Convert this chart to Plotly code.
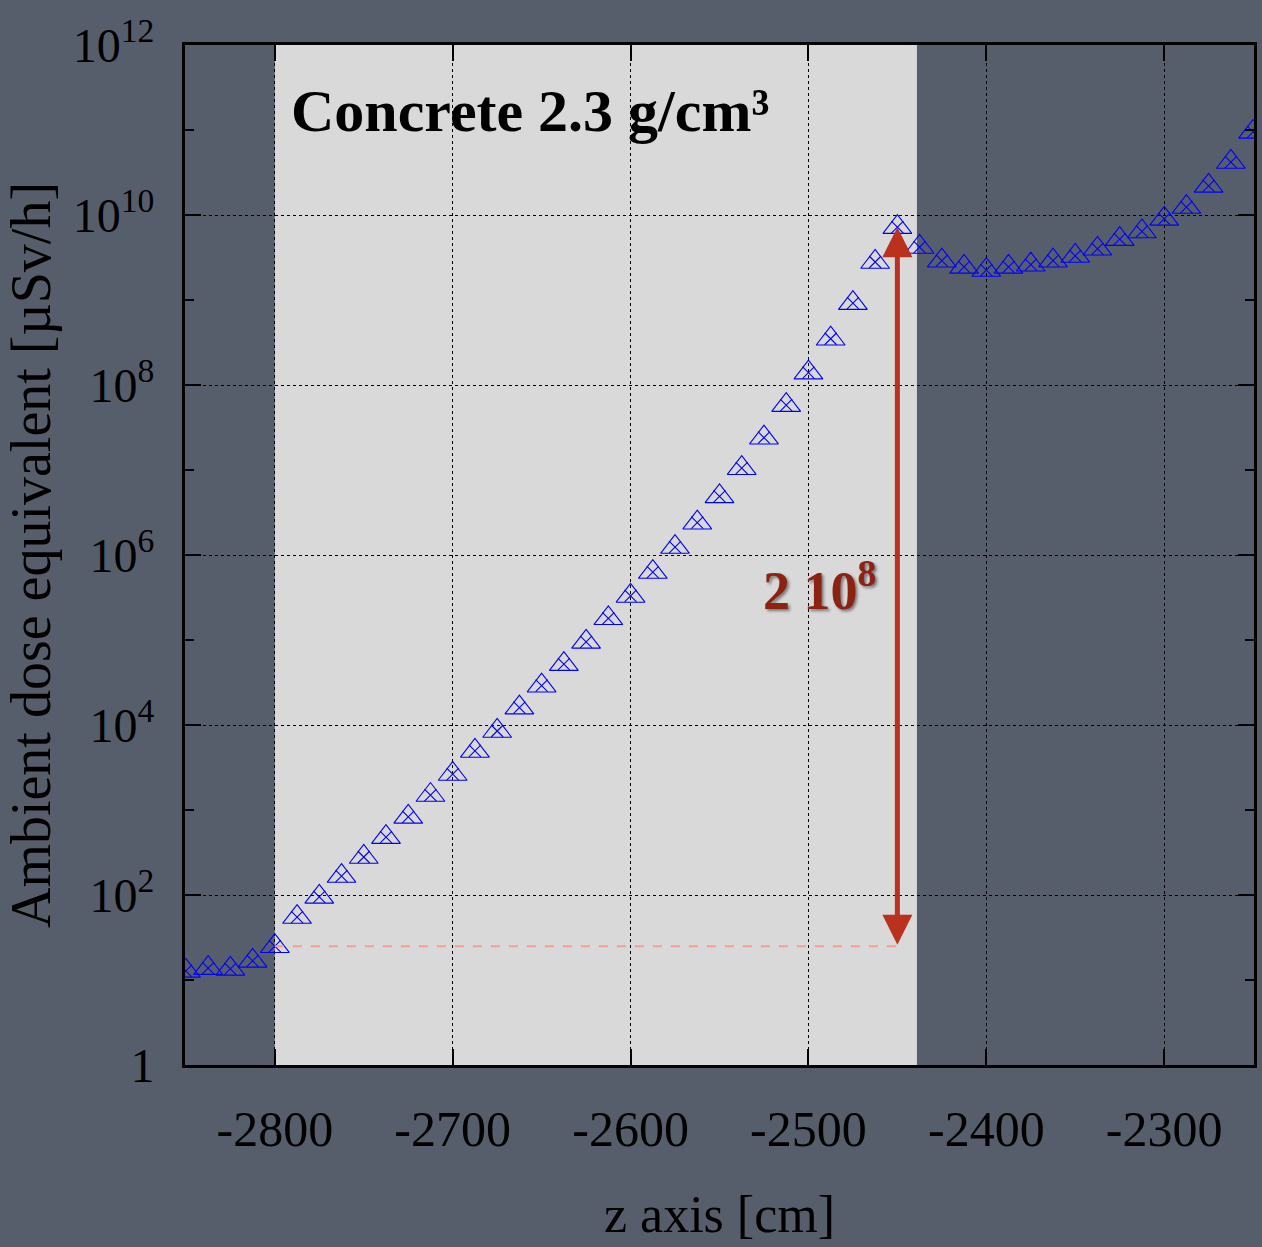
import numpy as np
import plotly.graph_objects as go

# ---- data ----
z_cm = [-2850, -2837.5, -2825, -2812.5, -2800, -2787.5, -2775, -2762.5, -2750, -2737.5,
        -2725, -2712.5, -2700, -2687.5, -2675, -2662.5, -2650, -2637.5, -2625, -2612.5,
        -2600, -2587.5, -2575, -2562.5, -2550, -2537.5, -2525, -2512.5, -2500, -2487.5,
        -2475, -2462.5, -2450, -2437.5, -2425, -2412.5, -2400, -2387.5, -2375, -2362.5,
        -2350, -2337.5, -2325, -2312.5, -2300, -2287.5, -2275, -2262.5, -2250]
dose = [12.8, 13.8, 13.5, 16.8, 25, 55, 95, 167, 280, 480,
        830, 1500, 2650, 4950, 8500, 1.6e4, 2.9e4, 5.2e4, 9.5e4, 1.8e5,
        3.3e5, 6.3e5, 1.24e6, 2.4e6, 4.9e6, 1.05e7, 2.4e7, 5.8e7, 1.4e8, 3.5e8,
        9.2e8, 2.8e9, 7.2e9, 4.2e9, 2.9e9, 2.45e9, 2.25e9, 2.45e9, 2.6e9, 2.9e9,
        3.3e9, 4.0e9, 5.2e9, 6.4e9, 9.0e9, 1.24e10, 2.2e10, 4.2e10, 9.5e10]

concrete_start = -2800
concrete_end = -2439
x_ticks = [-2800, -2700, -2600, -2500, -2400, -2300]
x_tick_text = ["-2800", "-2700", "-2600", "-2500", "-2400", "-2300"]
y_ticks = [1, 1e2, 1e4, 1e6, 1e8, 1e10, 1e12]
y_tick_text = ["1", "10<sup>2</sup>", "10<sup>4</sup>", "10<sup>6</sup>",
               "10<sup>8</sup>", "10<sup>10</sup>", "10<sup>12</sup>"]
y_minor = [10, 1e3, 1e5, 1e7, 1e9, 1e11]

BG = "#575e6b"
FONT = "Liberation Serif"

# reference points for annotation (from data)
base_idx = z_cm.index(concrete_start)
peak_idx = int(np.argmax(dose[:40]))
x_peak = z_cm[peak_idx]
y_base = dose[base_idx]
y_peak = dose[peak_idx]

fig = go.Figure()
fig.add_trace(go.Scatter(
    x=z_cm, y=dose, mode="markers",
    marker=dict(symbol="triangle-up-open", size=25, color="#0000ff",
                line=dict(width=1.1, color="#0000ff")),
    showlegend=False, hoverinfo="x+y"))
fig.add_trace(go.Scatter(
    x=z_cm, y=dose, mode="markers",
    marker=dict(symbol="x-thin-open", size=12, color="#0000ff",
                line=dict(width=1.1, color="#0000ff")),
    showlegend=False, hoverinfo="skip"))

# concrete region
fig.add_shape(type="rect", xref="x", yref="paper",
              x0=concrete_start, x1=concrete_end, y0=0, y1=1,
              fillcolor="#d9d9d9", line=dict(width=0), layer="below")
# dashed reference line
fig.add_shape(type="line", xref="x", yref="y",
              x0=concrete_start, x1=x_peak, y0=y_base, y1=y_base,
              line=dict(color="#f4a090", width=2, dash="dash"), layer="above")

# double arrow
fig.add_annotation(x=x_peak, y=np.log10(y_peak), ax=x_peak, ay=np.log10(y_base),
                   xref="x", yref="y", axref="x", ayref="y", text="",
                   showarrow=True, arrowhead=2, arrowside="end+start",
                   arrowsize=1.2, arrowwidth=5, arrowcolor="#b8321e")
fig.add_annotation(x=x_peak - 11, y=0.5 * (np.log10(y_base) + np.log10(y_peak)),
                   xref="x", yref="y", text="<b>2 10<sup>8</sup></b>",
                   showarrow=False, xanchor="right", yanchor="middle",
                   font=dict(family=FONT, size=54, color="#8b2212",
                             shadow="2px 2px 3px rgba(0,0,0,0.45)"))
fig.add_annotation(x=0.097, y=0.935, xref="paper", yref="paper",
                   text="<b>Concrete 2.3 g/cm³</b>", showarrow=False,
                   xanchor="left", yanchor="middle",
                   font=dict(family=FONT, size=60, color="#000000"))

fig.update_layout(
    width=1262, height=1247,
    margin=dict(l=185, r=5, t=45, b=182),
    paper_bgcolor=BG, plot_bgcolor=BG,
    font=dict(family=FONT, color="#000000"),
)
fig.update_xaxes(
    range=[-2850.5, -2249.5], tickvals=x_ticks, ticktext=x_tick_text,
    tickfont=dict(family=FONT, size=50, color="#000000"),
    ticks="inside", ticklen=16, tickwidth=2, tickcolor="#000000",
    showline=True, linecolor="#000000", linewidth=3, mirror="ticks",
    showgrid=True, gridcolor="#000000", gridwidth=1, griddash="dot",
    zeroline=False, ticklabelstandoff=18,
    title=dict(text="z axis [cm]", font=dict(family=FONT, size=52, color="#000000"),
               standoff=40),
)
fig.update_yaxes(
    type="log", range=[0, 12], tickvals=y_ticks, ticktext=y_tick_text,
    tickfont=dict(family=FONT, size=48, color="#000000"),
    ticks="inside", ticklen=16, tickwidth=2, tickcolor="#000000",
    minor=dict(tickvals=y_minor, ticks="inside", ticklen=9, tickwidth=2,
               tickcolor="#000000", showgrid=False),
    showline=True, linecolor="#000000", linewidth=3, mirror="ticks",
    showgrid=True, gridcolor="#000000", gridwidth=1, griddash="dot",
    zeroline=False, ticklabelstandoff=18,
    title=dict(text="Ambient dose equivalent [µSv/h]",
               font=dict(family=FONT, size=56, color="#000000"), standoff=22),
)

fig.write_html("out.html")
